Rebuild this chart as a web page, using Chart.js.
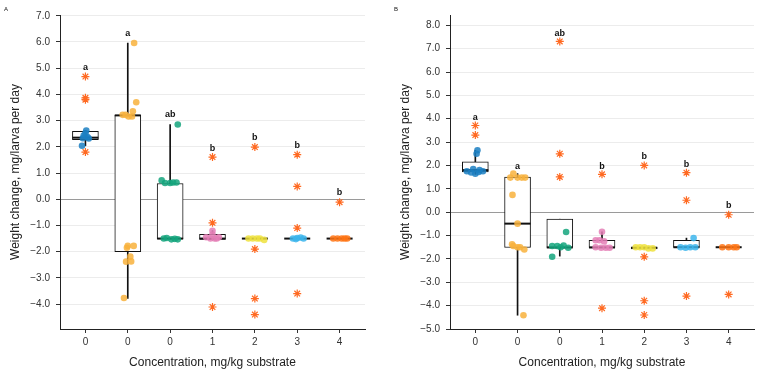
<!DOCTYPE html>
<html>
<head>
<meta charset="utf-8">
<script src="https://cdn.jsdelivr.net/npm/chart.js@4.4.1/dist/chart.umd.min.js"></script>
<style>
  html, body { margin: 0; padding: 0; background: #fff; }
  #wrap { position: relative; width: 769px; height: 374px; }
  canvas { position: absolute; top: 0; }
</style>
</head>
<body>
<div id="wrap">
  <canvas id="panel-a" width="380" height="374" style="left:0px"></canvas>
  <canvas id="panel-b" width="379" height="374" style="left:390px"></canvas>
</div>
<script>
"use strict";

// x categories (concentration, mg/kg substrate)
var categories = ["0", "0", "0", "1", "2", "3", "4"];
var groupColors = ["#1B7FC2", "#F8B23C", "#14A57C", "#E47FB6", "#EEE23E", "#3CB5EC", "#FF7414"];
var starColor = "#FF6A22";

// ---- panel A ----
var aLower  = [2.04, -3.78, -1.51, -1.53, -1.5, -1.5, -1.5];
var aQ1     = [2.27, -2.00, -1.51, -1.53, -1.5, -1.5, -1.5];
var aMedian = [2.35,  3.20, -1.50, -1.50, -1.5, -1.5, -1.5];
var aQ3     = [2.59,  3.20,  0.60, -1.34, -1.5, -1.5, -1.5];
var aUpper  = [2.62,  5.96,  2.85, -1.20, -1.5, -1.5, -1.5];
// [jitter offset, value]
var aDots = [
    [[0.02, 2.62], [0.0, 2.52], [-0.04, 2.43], [0.05, 2.37], [-0.06, 2.33], [0.08, 2.32], [-0.08, 2.04]],
    [[0.15, 5.96], [0.2, 3.70], [0.12, 3.36], [-0.05, 3.22], [-0.12, 3.22], [0.02, 3.16], [0.1, 3.16],
     [0.0, -1.78], [-0.02, -1.85], [0.14, -1.78], [0.06, -2.19], [-0.04, -2.38], [0.08, -2.37], [-0.09, -3.77]],
    [[0.18, 2.85], [-0.2, 0.72], [-0.12, 0.62], [0.0, 0.62], [0.07, 0.64], [0.15, 0.64],
     [-0.08, -1.48], [0.03, -1.53], [0.11, -1.51], [0.18, -1.53], [-0.15, -1.5]],
    [[0.0, -1.2], [0.0, -1.35], [-0.15, -1.45], [-0.05, -1.5], [0.05, -1.5], [0.15, -1.45], [0.1, -1.5]],
    [[-0.15, -1.5], [-0.05, -1.5], [0.05, -1.5], [0.12, -1.5], [0.22, -1.55]],
    [[-0.1, -1.5], [0.0, -1.48], [0.08, -1.46], [0.15, -1.5], [-0.03, -1.52]],
    [[-0.15, -1.5], [-0.05, -1.5], [0.05, -1.5], [0.12, -1.5], [0.18, -1.5]]
];
var aStars = [[4.68, 3.87, 3.80, 1.80], [], [], [1.61, -0.90, -4.11], [1.99, -1.90, -3.79, -4.40], [1.70, 0.49, -1.10, -3.60], [-0.11]];
var aLetters = ["a", "a", "ab", "b", "b", "b", "b"];
var aLetterY = [5.03, 6.34, 3.22, 1.95, 2.37, 2.05, 0.25];
var aTicks = [-4, -3, -2, -1, 0, 1, 2, 3, 4, 5, 6, 7];

// ---- panel B ----
var bLower  = [1.62, -4.41, -1.88, -1.51, -1.57, -1.51, -1.5];
var bQ1     = [1.72, -1.51, -1.51, -1.51, -1.57, -1.51, -1.5];
var bMedian = [1.80, -0.49, -1.51, -1.51, -1.52, -1.50, -1.5];
var bQ3     = [2.16,  1.50, -0.30, -1.20, -1.50, -1.20, -1.5];
var bUpper  = [2.65,  1.65, -0.30, -0.84, -1.50, -1.11, -1.5];
var bDots = [
    [[-0.2, 1.75], [-0.1, 1.7], [0.0, 1.65], [0.08, 1.72], [0.18, 1.75], [-0.05, 1.85], [0.1, 1.8], [0.03, 2.5], [0.05, 2.65]],
    [[-0.1, 1.65], [-0.17, 1.48], [0.0, 1.48], [0.1, 1.48], [0.18, 1.48], [-0.12, 0.74], [0.0, -0.49],
     [-0.13, -1.37], [0.0, -1.5], [0.06, -1.5], [0.16, -1.6], [-0.1, -1.45], [0.14, -4.41]],
    [[0.15, -0.85], [-0.18, -1.45], [-0.06, -1.45], [0.09, -1.43], [0.2, -1.52], [0.02, -1.5], [-0.18, -1.91]],
    [[0.0, -0.84], [-0.15, -1.2], [-0.06, -1.2], [0.05, -1.25], [-0.15, -1.5], [-0.02, -1.52], [0.09, -1.52], [0.18, -1.52]],
    [[-0.2, -1.5], [-0.1, -1.5], [0.0, -1.5], [0.1, -1.55], [0.2, -1.55]],
    [[0.17, -1.11], [-0.14, -1.5], [-0.02, -1.52], [0.09, -1.5], [0.21, -1.5]],
    [[-0.15, -1.5], [0.0, -1.5], [0.12, -1.5], [0.19, -1.5]]
];
var bStars = [[3.71, 3.30], [], [7.31, 2.50, 1.51], [1.62, -4.11], [2.00, -1.91, -3.79, -4.40], [1.69, 0.51, -3.59], [-0.11, -3.52]];
var bLetters = ["a", "a", "ab", "b", "b", "b", "b"];
var bLetterY = [4.04, 1.95, 7.64, 1.95, 2.37, 2.05, 0.27];
var bTicks = [-5, -4, -3, -2, -1, 0, 1, 2, 3, 4, 5, 6, 7, 8];

Chart.defaults.font.family = "'Liberation Sans', Arial, sans-serif";

function fmt(v) {
    return (v < 0 ? "\u2212" : "") + Math.abs(v).toFixed(1);
}

function alpha(hex, a) {
    var n = parseInt(hex.slice(1), 16);
    return "rgba(" + (n >> 16) + "," + ((n >> 8) & 255) + "," + (n & 255) + "," + a + ")";
}

// letters above each group + panel tag
var lettersPlugin = {
    id: "letters",
    afterDatasetsDraw: function(chart, args, opts) {
        var ctx = chart.ctx, xs = chart.scales.x, ys = chart.scales.y;
        ctx.save();
        ctx.fillStyle = "#111";
        ctx.font = "bold 9px 'Liberation Sans', Arial, sans-serif";
        ctx.textAlign = "center";
        ctx.textBaseline = "middle";
        opts.letters.forEach(function(l, i) {
            ctx.fillText(l, xs.getPixelForValue(i), ys.getPixelForValue(opts.letterY[i]));
        });
        ctx.font = "6px 'Liberation Sans', Arial, sans-serif";
        ctx.textAlign = "left";
        ctx.textBaseline = "alphabetic";
        ctx.fillText(opts.tag, 4, 11);
        ctx.restore();
    }
};

function makePanel(id, tag, p, rightPad) {
    var datasets = [];

    // whiskers
    datasets.push({
        type: "bar",
        data: p.lower.map(function(v, i) { return { x: i, y: [v, p.upper[i]] }; }),
        backgroundColor: "#111",
        borderWidth: 0,
        barThickness: 1,
        grouped: false,
        order: 4
    });
    // boxes
    datasets.push({
        type: "bar",
        data: p.q1.map(function(v, i) { return { x: i, y: [v, p.q3[i]] }; }),
        backgroundColor: "#fff",
        borderColor: "#111",
        borderWidth: 1,
        borderSkipped: false,
        barThickness: 26,
        grouped: false,
        order: 3
    });
    // medians
    datasets.push({
        type: "scatter",
        data: p.median.map(function(v, i) { return { x: i, y: v }; }),
        pointStyle: "line",
        pointRadius: 13,
        pointBorderWidth: 2,
        pointBorderColor: "#111",
        order: 2
    });
    // jittered observations
    p.dots.forEach(function(g, i) {
        datasets.push({
            type: "scatter",
            data: g.map(function(d) { return { x: i + d[0], y: d[1] }; }),
            pointRadius: 3.3,
            pointBorderWidth: 0,
            pointBackgroundColor: alpha(groupColors[i], 0.85),
            order: 1
        });
    });
    // asterisks
    datasets.push({
        type: "scatter",
        data: p.stars.reduce(function(acc, g, i) {
            return acc.concat(g.map(function(v) { return { x: i, y: v }; }));
        }, []),
        pointStyle: "star",
        pointRadius: 4,
        pointBorderWidth: 1.2,
        pointBorderColor: starColor,
        pointBackgroundColor: starColor,
        order: 0
    });

    return new Chart(document.getElementById(id), {
        type: "scatter",
        data: { datasets: datasets },
        plugins: [lettersPlugin],
        options: {
            responsive: false,
            animation: false,
            events: [],
            layout: { padding: { top: 14, right: rightPad, left: 0, bottom: 0 } },
            plugins: {
                legend: { display: false },
                tooltip: { enabled: false },
                letters: { letters: p.letters, letterY: p.letterY, tag: tag }
            },
            scales: {
                x: {
                    type: "linear",
                    min: -0.6,
                    max: 6.6,
                    offset: false,
                    afterBuildTicks: function(s) { s.ticks = categories.map(function(c, i) { return { value: i }; }); },
                    afterFit: function(s) { s.height = 45; },
                    grid: { offset: false, drawOnChartArea: false, drawTicks: true, tickLength: 4, tickColor: "#333" },
                    border: { display: true, color: "#222", width: 1 },
                    ticks: {
                        autoSkip: false,
                        maxRotation: 0,
                        padding: 3,
                        color: "#333",
                        font: { size: 10 },
                        callback: function(v) { return categories[Math.round(v)]; }
                    },
                    title: {
                        display: true,
                        text: "Concentration, mg/kg substrate",
                        color: "#222",
                        font: { size: 12 },
                        padding: { top: 0, bottom: 4 }
                    }
                },
                y: {
                    type: "linear",
                    min: p.ymin,
                    max: p.ymax,
                    afterBuildTicks: function(s) { s.ticks = p.ticks.map(function(v) { return { value: v }; }); },
                    afterFit: function(s) { s.width = 60; },
                    grid: {
                        color: function(c) { return c.tick && c.tick.value === 0 ? "#9a9a9a" : "#ececec"; },
                        lineWidth: 1,
                        drawTicks: true,
                        tickLength: 4,
                        tickColor: "#333"
                    },
                    border: { display: true, color: "#222", width: 1 },
                    ticks: {
                        autoSkip: false,
                        padding: 6,
                        color: "#333",
                        font: { size: 10 },
                        callback: function(v) { return fmt(v); }
                    },
                    title: {
                        display: true,
                        text: "Weight change, mg/larva per day",
                        color: "#222",
                        font: { size: 12 },
                        padding: { top: 8, bottom: 0 }
                    }
                }
            }
        }
    });
}

makePanel("panel-a", "A", {
    lower: aLower, q1: aQ1, median: aMedian, q3: aQ3, upper: aUpper,
    dots: aDots, stars: aStars, letters: aLetters, letterY: aLetterY,
    ticks: aTicks, ymin: -4.95, ymax: 7.03
}, 8);

makePanel("panel-b", "B", {
    lower: bLower, q1: bQ1, median: bMedian, q3: bQ3, upper: bUpper,
    dots: bDots, stars: bStars, letters: bLetters, letterY: bLetterY,
    ticks: bTicks, ymin: -5.0, ymax: 8.44
}, 7);
</script>
</body>
</html>
